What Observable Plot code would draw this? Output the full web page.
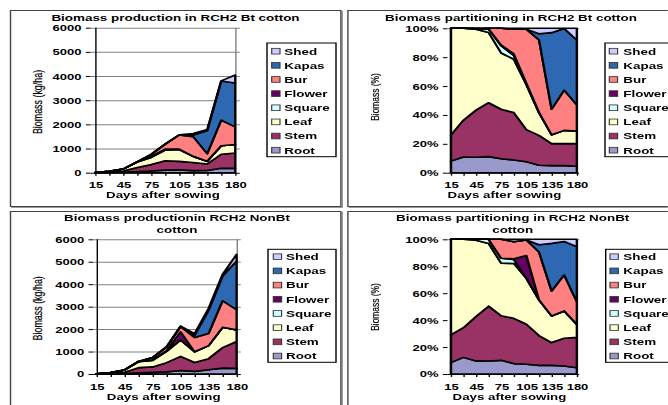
<!DOCTYPE html>
<html><head><meta charset="utf-8">
<script src="https://cdn.jsdelivr.net/npm/d3@7"></script>
<script src="https://cdn.jsdelivr.net/npm/@observablehq/plot@0.6"></script>
<style>
html,body{margin:0;padding:0;background:#fff;overflow:hidden;width:668px;height:405px}
#stage{position:absolute;left:0;top:0;height:405px;transform:scale(1.4,1);transform-origin:0 0;overflow:hidden;background:#fff}
.panel{position:absolute;border:1px solid #444;box-shadow:1px 1px 0 #999;background:#fff;box-sizing:border-box}
.chart{position:absolute}
svg text{font-family:"Liberation Sans",Arial,sans-serif}
</style></head>
<body><div id="stage"></div>
<script>
// ---- data ----
const days = [15, 30, 45, 60, 75, 90, 105, 120, 135, 150, 180];
const xTickLabels = [15, 45, 75, 105, 135, 180];
const kgTicks = [0, 1000, 2000, 3000, 4000, 5000, 6000];
const pctTicks = [0, 0.2, 0.4, 0.6, 0.8, 1];
const parts = ["Root", "Stem", "Leaf", "Square", "Flower", "Bur", "Kapas", "Shed"];
const colors = ["#9999cc", "#993366", "#ffffcc", "#ccffff", "#660066", "#ff8080", "#2e68b3", "#ccccff"];

// RCH2 Bt cotton (kg/ha)
const btRoot   = [0.8, 6, 16, 50, 73, 105, 118, 84, 88, 186, 178];
const btStem   = [1.8, 14, 49, 168, 261, 390, 350, 335, 272, 578, 634];
const btLeaf   = [7.4, 35, 84, 219, 296, 439, 490, 254, 111, 350, 356];
const btSquare = [0, 0, 0.8, 11, 38, 32, 5, 0, 0, 0, 0];
const btFlower = [0, 0, 0, 0, 4, 12, 11, 5, 0, 0, 0];
const btBur    = [0, 0, 0, 2, 88, 203, 586, 812, 315, 1060, 731];
const btKapas  = [0, 0, 0, 0, 0, 0, 0, 68, 950, 1619, 1810];
const btShed   = [0, 0, 0.2, 0, 0, 8, 11, 62, 54, 8, 331];

// RCH2 NonBt cotton (kg/ha)
const nbRoot   = [0.84, 7.4, 17.5, 54, 74, 94, 153, 115, 188, 262, 250];
const nbStem   = [2.06, 13.2, 59.2, 228, 242, 410, 633, 398, 495, 915, 1199];
const nbLeaf   = [7.1, 39.4, 102, 261, 284, 498, 726, 477, 580, 901, 517];
const nbSquare = [0, 0, 1.3, 17, 27, 37, 0, 0, 0, 0, 0];
const nbFlower = [0, 0, 0, 0, 0, 6, 362, 0, 0, 0, 0];
const nbBur    = [0, 0, 0, 0, 103, 155, 245, 639, 542, 1185, 895];
const nbKapas  = [0, 0, 0, 0, 0, 0, 0, 99, 1037, 1101, 2180];
const nbShed   = [0, 0, 0, 0, 0, 21, 11, 72, 88, 75, 288];

const rowsOf = arrs => parts.flatMap((p, j) => days.map((d, i) => ({day: d, part: p, value: arrs[j][i]})));
const btRows = rowsOf([btRoot, btStem, btLeaf, btSquare, btFlower, btBur, btKapas, btShed]);
const nbRows = rowsOf([nbRoot, nbStem, nbLeaf, nbSquare, nbFlower, nbBur, nbKapas, nbShed]);

// ---- layout (final pixel coords; x is divided by horizontal stretch S) ----
const S = 1.4;
const W = 668 / S;
const panels = [
  {box:[10,10,341,207], plot:[90.7,27.7,240,172.7], title:["Biomass production in RCH2 Bt cotton"], tx:175.5, ty:[20.7],
   yl:"Biomass (kg/ha)", ylx:37.2, yly:102, ylfs:8.9, xlx:163, xly:198.5, leg:[267,43,336,156.7], sx:271.7, lx:284.3, ly0:51.2, ls:14.14, rows:btRows, pct:false},
  {box:[347,10,700,207], plot:[447.3,28.3,579,172.7], title:["Biomass partitioning in RCH2 Bt cotton"], tx:511, ty:[20.7],
   yl:"Biomass (%)", ylx:374.5, yly:97, ylfs:8.4, xlx:504.5, xly:198.5, leg:[605,43,720,156.7], sx:609.3, lx:623.3, ly0:51.2, ls:14.14, rows:btRows, pct:true},
  {box:[10,211,342,415], plot:[93.3,239.3,241,374], title:["Biomass productionin RCH2 NonBt","cotton"], tx:177, ty:[221,233],
   yl:"Biomass (kg/ha)", ylx:37.7, yly:308.3, ylfs:8.9, xlx:163.7, xly:400, leg:[268,249.3,336,362.3], sx:273.3, lx:286, ly0:256.7, ls:14.19, rows:nbRows, pct:false},
  {box:[347,211,700,415], plot:[447.3,239.3,579,374], title:["Biomass partitioning in RCH2 NonBt","cotton"], tx:512.7, ty:[221,233],
   yl:"Biomass (%)", ylx:375, yly:307, ylfs:8.4, xlx:509.5, xly:400, leg:[605.7,249.3,720,362.3], sx:610, lx:623.3, ly0:256.7, ls:14.19, rows:nbRows, pct:true}
];

const stage = document.getElementById("stage");
stage.style.width = W + "px";

function makeChart(p) {
  const left = p.box[0], top = p.box[1];
  const width = (p.box[2] - left) / S, height = p.box[3] - top;
  const div = document.createElement("div");
  div.className = "panel";
  Object.assign(div.style, {left: left / S + "px", top: top + "px", width: width + "px", height: height + "px"});
  stage.appendChild(div);

  const chart = Plot.plot({
    width, height,
    marginLeft: (p.plot[0] - left) / S,
    marginRight: (p.box[2] - p.plot[2]) / S,
    marginTop: p.plot[1] - top,
    marginBottom: p.box[3] - p.plot[3],
    style: {fontFamily: "Liberation Sans, Arial, sans-serif", fontSize: "9.3px", fontWeight: "bold", background: "transparent", overflow: "visible", color: "#000"},
    x: {type: "point", domain: days, padding: 0, axis: null},
    y: {domain: p.pct ? [0, 1] : [0, 6000], axis: null},
    color: {domain: parts, range: colors},
    marks: [
      p.pct ? Plot.ruleY([1], {stroke: "#808080"}) : Plot.ruleY(kgTicks.slice(1), {stroke: "#808080"}),
      Plot.ruleX([days[days.length - 1]], {stroke: "#808080"}),
      Plot.areaY(p.rows, {x: "day", y: "value", z: "part", fill: "part", stroke: "#000", strokeWidth: 1.6,
        strokeLinejoin: "round", offset: p.pct ? "normalize" : null}),
      Plot.ruleY([0], {stroke: "#000"}),
      Plot.ruleX([days[0]], {stroke: "#000"}),
      Plot.axisY({ticks: p.pct ? pctTicks : kgTicks, tickFormat: p.pct ? d3.format(".0%") : (d => String(d)),
        tickSize: 3.3, tickPadding: 3.6, label: null, fontSize: 9.3, fontWeight: "bold"}),
      Plot.axisX({ticks: days, tickFormat: d => xTickLabels.includes(d) ? String(d) : "",
        tickSize: 3, tickPadding: 5.5, label: null, fontSize: 9.3, fontWeight: "bold"})
    ]
  });
  chart.classList.add("chart");
  chart.style.left = left / S + "px";
  chart.style.top = top + "px";
  stage.appendChild(chart);
}
panels.forEach(makeChart);

// ---- overlay texts and legends ----
const ov = d3.select(stage).append("svg")
  .attr("width", W).attr("height", 405)
  .style("position", "absolute").style("left", "0px").style("top", "0px").style("overflow", "visible");

const legendOrder = parts.slice().reverse();
panels.forEach(p => {
  p.title.forEach((t, i) => {
    ov.append("text").attr("x", p.tx / S).attr("y", p.ty[i]).attr("text-anchor", "middle")
      .attr("font-size", 9.6).attr("font-weight", "bold").text(t);
  });
  ov.append("text").attr("transform", `translate(${p.ylx / S},${p.yly}) rotate(-90)`)
    .attr("text-anchor", "middle").attr("dominant-baseline", "central")
    .attr("font-size", p.ylfs).attr("fill", "#000").attr("stroke", "#000").attr("stroke-width", 0.15).text(p.yl);
  ov.append("text").attr("x", p.xlx / S).attr("y", p.xly).attr("text-anchor", "middle")
    .attr("font-size", 9.5).attr("font-weight", "bold").text("Days after sowing");
  ov.append("rect").attr("x", p.leg[0] / S).attr("y", p.leg[1])
    .attr("width", (p.leg[2] - p.leg[0]) / S).attr("height", p.leg[3] - p.leg[1])
    .attr("fill", "#fff").attr("stroke", "#000").attr("stroke-width", 1);
  legendOrder.forEach((name, k) => {
    const cy = p.ly0 + k * p.ls;
    ov.append("rect").attr("x", p.sx / S).attr("y", cy - 2.85).attr("width", 8.3 / S).attr("height", 5.7)
      .attr("fill", colors[parts.indexOf(name)]).attr("stroke", "#333").attr("stroke-width", 0.8);
    ov.append("text").attr("x", p.lx / S).attr("y", cy + 3.4)
      .attr("font-size", 9.6).attr("font-weight", "bold").text(name);
  });
});
</script>
</body></html>
